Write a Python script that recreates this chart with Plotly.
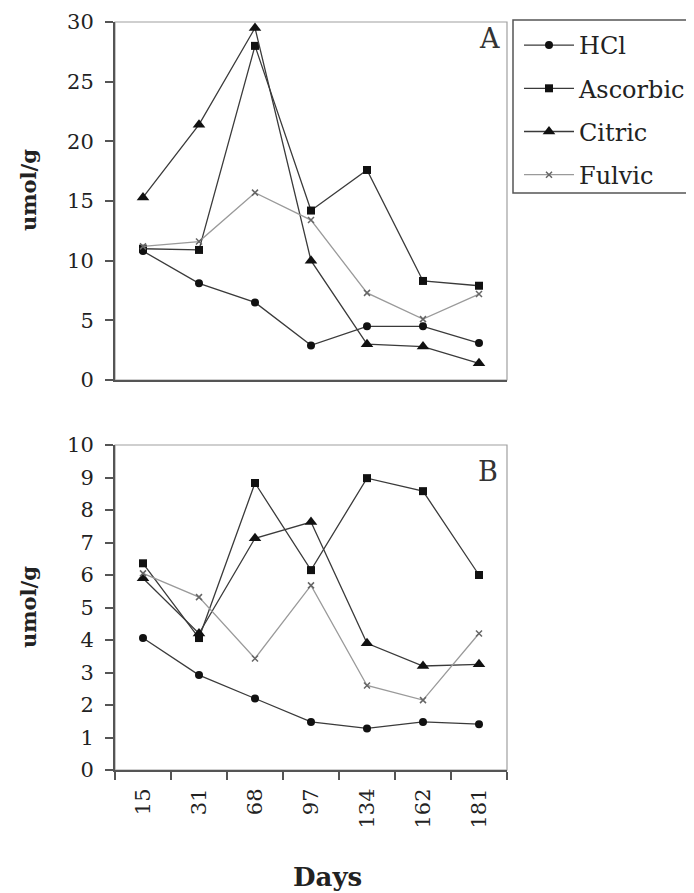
import plotly.graph_objects as go

days = ["15", "31", "68", "97", "134", "162", "181"]

a_hcl = [10.8, 8.1, 6.5, 2.9, 4.5, 4.5, 3.1]
a_ascorbic = [11.0, 10.9, 28.0, 14.2, 17.6, 8.3, 7.9]
a_citric = [15.3, 21.4, 29.5, 10.0, 3.0, 2.8, 1.4]
a_fulvic = [11.2, 11.6, 15.7, 13.4, 7.3, 5.1, 7.2]

b_hcl = [4.06, 2.92, 2.2, 1.48, 1.28, 1.48, 1.41]
b_ascorbic = [6.36, 4.06, 8.83, 6.15, 8.98, 8.58, 6.0]
b_citric = [5.9, 4.2, 7.13, 7.63, 3.9, 3.2, 3.25]
b_fulvic = [6.05, 5.32, 3.43, 5.68, 2.6, 2.15, 4.2]

series_names = ["HCl", "Ascorbic", "Citric", "Fulvic"]

# page body has an 8px default margin; size the figure to fit the window
OFF = 8
W, H = 694 - OFF, 893 - OFF
SERIF = "DejaVu Serif, serif"

styles = {
    "HCl": dict(line=dict(color="#3a3a3a", width=1.3), marker=dict(symbol="circle", size=8, color="#111")),
    "Ascorbic": dict(line=dict(color="#3a3a3a", width=1.3), marker=dict(symbol="square", size=8, color="#111")),
    "Citric": dict(line=dict(color="#3a3a3a", width=1.3), marker=dict(symbol="triangle-up", size=11, color="#111")),
    "Fulvic": dict(line=dict(color="#9a9a9a", width=1.3), marker=dict(symbol="x-thin", size=6, color="#666", line=dict(color="#666", width=1.5))),
}

fig = go.Figure()
for name, ya, yb in zip(series_names, [a_hcl, a_ascorbic, a_citric, a_fulvic], [b_hcl, b_ascorbic, b_citric, b_fulvic]):
    st = styles[name]
    fig.add_trace(go.Scatter(x=days, y=ya, name=name, mode="lines+markers", legendgroup=name,
                             xaxis="x", yaxis="y", **st))
    fig.add_trace(go.Scatter(x=days, y=yb, name=name, mode="lines+markers", legendgroup=name,
                             showlegend=False, xaxis="x2", yaxis="y2", **st))

def px_x(v):
    return (v - OFF) / W

def px_y(v):
    return 1 - (v - OFF) / H

xdom = [px_x(115), px_x(507)]
tickfont = dict(family=SERIF, size=21, color="#222")

common_x = dict(domain=xdom, type="category", categoryorder="array", categoryarray=days,
                range=[-0.5, 6.5], showline=True, linecolor="#555", linewidth=2,
                showgrid=False, zeroline=False, tickson="boundaries")
common_y = dict(showline=True, linecolor="#555", linewidth=2, showgrid=False, zeroline=False,
                ticks="outside", ticklen=8, tickwidth=1.5, tickcolor="#555", tickfont=tickfont,
                ticklabelstandoff=7)

fig.update_layout(
    width=W, height=H,
    margin=dict(l=0, r=0, t=0, b=0, autoexpand=False),
    paper_bgcolor="white", plot_bgcolor="white",
    xaxis=dict(anchor="y", showticklabels=False, ticks="", **common_x),
    yaxis=dict(domain=[px_y(380), px_y(22)], anchor="x", range=[0, 30], dtick=5, **common_y),
    xaxis2=dict(anchor="y2", showticklabels=True, ticks="outside", ticklen=8, tickwidth=1.5,
                tickcolor="#555", tickangle=-90, tickfont=tickfont, ticklabelstandoff=8, **common_x),
    yaxis2=dict(domain=[px_y(770), px_y(445)], anchor="x2", range=[0, 10], dtick=1, **common_y),
    legend=dict(x=px_x(519), y=px_y(23), xanchor="left", yanchor="top", itemwidth=50,
                font=dict(family=SERIF, size=24, color="#222"),
                bgcolor="rgba(0,0,0,0)", borderwidth=0, tracegroupgap=9),
    showlegend=True,
)

# panel borders (light) and legend frame
for top, bot in [(22, 380), (445, 770)]:
    fig.add_shape(type="rect", xref="paper", yref="paper", x0=xdom[0], x1=xdom[1],
                  y0=px_y(bot), y1=px_y(top), line=dict(color="#a0a0a0", width=1.2), layer="below")
fig.add_shape(type="rect", xref="paper", yref="paper", x0=px_x(513), x1=px_x(710),
              y0=px_y(193), y1=px_y(20), line=dict(color="#555", width=1.5))

ann = [
    dict(text="A", x=px_x(489), y=px_y(39), font=dict(family=SERIF, size=27, color="#333")),
    dict(text="B", x=px_x(488), y=px_y(471), font=dict(family=SERIF, size=27, color="#333")),
    dict(text="<b>umol/g</b>", x=px_x(28), y=px_y(190), textangle=-90, font=dict(family=SERIF, size=21, color="#222")),
    dict(text="<b>umol/g</b>", x=px_x(28), y=px_y(607), textangle=-90, font=dict(family=SERIF, size=21, color="#222")),
    dict(text="<b>Days</b>", x=px_x(327), y=px_y(877), font=dict(family=SERIF, size=26, color="#222")),
]
for a in ann:
    fig.add_annotation(xref="paper", yref="paper", showarrow=False, xanchor="center", yanchor="middle", **a)

fig.write_html("out.html")
